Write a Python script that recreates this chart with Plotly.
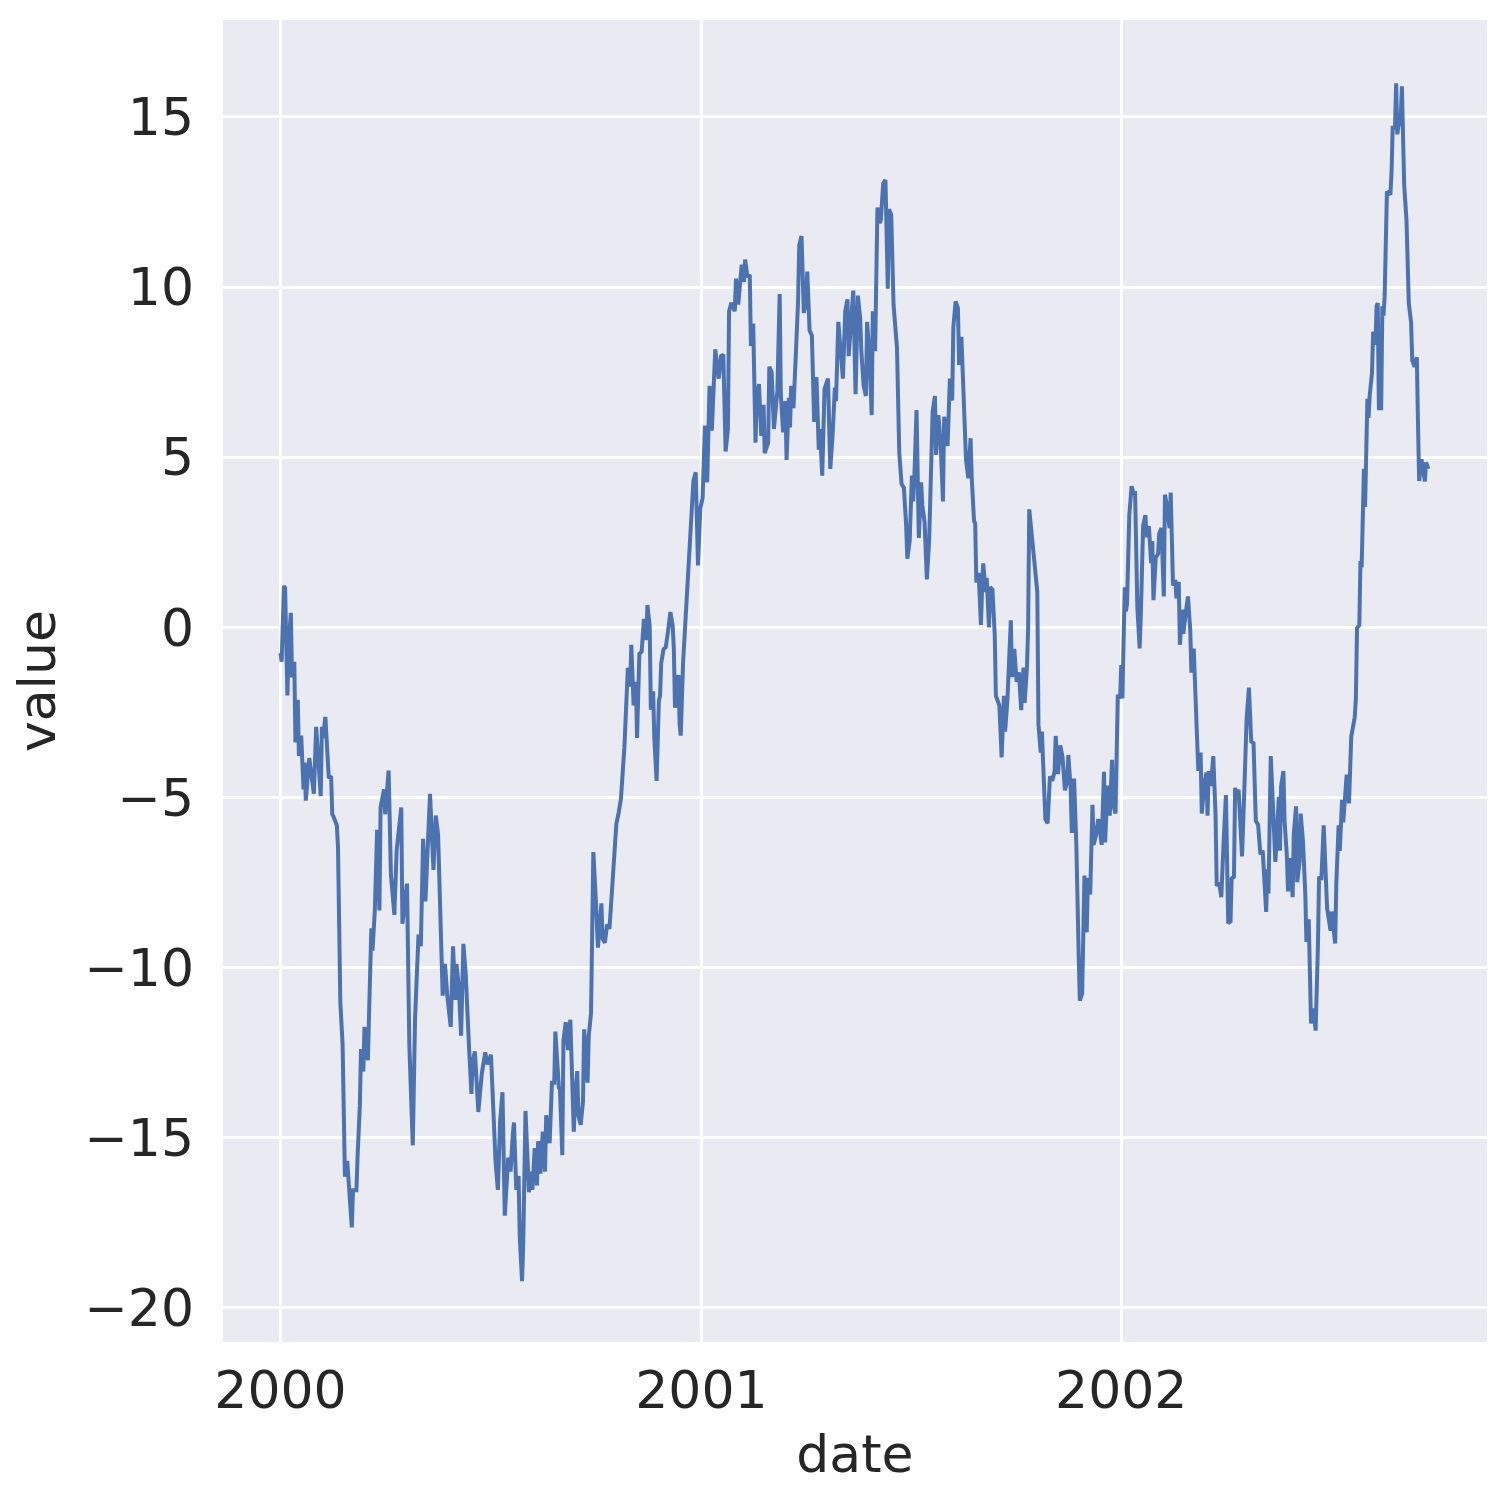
import pandas as pd
import plotly.graph_objects as go

# random walk: day offset from 2000-01-01 and value
start = pd.Timestamp("2000-01-01")

days_1 = [0, 1, 3, 4, 6, 7, 9, 10, 12, 13,
          15, 16, 18, 20, 21, 22, 25, 27, 29, 31,
          33, 35, 36, 37, 39, 40, 42, 44, 45, 46,
          49, 50, 51, 52, 54, 56, 58, 60, 62, 63,
          66, 67, 69, 70, 72, 73, 76, 77, 79, 80,
          82, 84, 86, 87, 90, 91, 94, 96, 99, 101,
          105, 106, 110, 112, 115, 117, 120, 122, 124, 126,
          128, 130, 133, 135, 137, 139, 141, 143, 145, 148,
          150, 152, 153, 155, 157, 159, 161, 164, 166, 167,
          169, 172, 175]
vals_1 = [-0.75, -1.01, 1.22, 1.16, -2.0, -0.55, 0.43, -1.47, -1.01, -3.38,
          -2.13, -3.78, -3.18, -4.76, -3.97, -5.09, -3.84, -4.37, -4.89, -2.92,
          -4.11, -4.96, -2.92, -3.25, -2.63, -3.38, -4.43, -4.37, -5.49, -5.55,
          -5.82, -6.47, -10.16, -11.01, -12.26, -16.14, -15.68, -16.74, -17.63, -16.54,
          -16.54, -15.55, -14.04, -12.39, -13.05, -11.74, -12.72, -11.34, -8.84, -9.5,
          -8.32, -5.95, -8.32, -5.29, -4.76, -5.49, -4.21, -7.26, -8.45, -6.54,
          -5.29, -8.71, -7.53, -12.26, -15.22, -11.47, -9.03, -9.37, -6.21, -8.05,
          -6.21, -4.89, -7.13, -5.53, -6.08, -8.97, -10.82, -9.89, -10.82, -11.74,
          -9.37, -10.95, -9.89, -10.55, -12.0, -9.3, -10.16, -12.39, -13.71, -12.79,
          -12.46, -14.24, -13.12]

days_2 = [178, 180, 183, 185, 187, 189, 191, 193, 195, 198,
          200, 202, 203, 205, 207, 208, 210, 211, 213, 216,
          218, 219, 221, 223, 224, 226, 228, 230, 231, 234,
          236, 238, 239, 242, 243, 245, 246, 248, 250, 252,
          255, 256, 258, 259, 261, 263, 264, 267, 268, 270,
          271, 272, 274, 276, 279, 280, 282, 284, 286, 288,
          290, 292, 294, 296, 299, 300, 302, 304, 305, 307,
          309, 310, 312, 314, 316, 318, 319, 321, 322, 324,
          325, 327, 329, 330, 331, 333, 335, 337, 339, 341,
          342, 343, 346, 347, 348, 350, 352, 354, 355]
vals_2 = [-12.49, -12.84, -12.56, -14.48, -15.71, -16.53, -14.48, -13.66, -17.29, -15.58,
          -15.99, -14.89, -14.55, -16.53, -16.12, -17.9, -19.21, -18.18, -14.21, -16.6,
          -15.99, -16.53, -15.3, -16.4, -15.1, -16.05, -14.82, -15.99, -14.34, -15.16,
          -13.38, -13.38, -11.88, -13.52, -13.59, -15.51, -12.15, -11.6, -12.42, -11.53,
          -14.82, -13.93, -13.04, -14.34, -14.62, -13.93, -11.81, -13.38, -12.01, -11.33,
          -9.27, -6.6, -7.9, -9.41, -8.11, -9.14, -9.27, -8.73, -8.86, -7.77,
          -6.53, -5.78, -5.44, -5.03, -3.52, -2.56, -1.19, -1.74, -0.51, -2.29,
          -1.6, -3.25, -0.78, -0.71, 0.25, -0.37, 0.66, 0.04, -2.42, -1.88,
          -3.25, -4.51, -2.15, -2.01, -1.05, -0.64, -0.58, -0.1, 0.45, 0.04,
          -0.64, -2.36, -1.4, -2.84, -3.18, -1.05, 0.18, 1.48, 1.68]

days_3 = [357, 359, 361, 363, 365, 367, 369, 371, 373, 375,
          378, 381, 383, 385, 387, 389, 390, 392, 395, 396,
          398, 401, 403, 404, 406, 408, 409, 411, 413, 414,
          416, 418, 420, 421, 424, 425, 427, 429, 432, 434,
          435, 437, 439, 440, 442, 443, 444, 446, 448, 450,
          451, 453, 455, 457, 458, 460, 462, 464, 466, 468,
          469, 471, 473, 476, 478, 480, 482, 483, 485, 487,
          489, 491, 493, 494, 496, 498, 500, 502, 504, 505,
          507, 509, 510, 512, 514, 515, 517, 519, 521, 522,
          524, 526, 528, 529, 531, 533, 536, 538, 540, 542,
          544, 545, 547, 549, 550, 551, 553, 555, 557, 558,
          560, 562, 564, 565, 567, 569, 570, 572, 574, 576,
          577, 580, 582]
vals_3 = [3.19, 4.31, 4.56, 1.82, 3.5, 3.8, 5.93, 4.26, 7.1, 5.78,
          8.17, 7.31, 7.97, 8.02, 5.17, 5.83, 9.29, 9.54, 9.29, 10.25,
          9.49, 10.66, 10.15, 10.81, 10.3, 10.36, 8.27, 8.93, 5.43, 6.65,
          7.15, 5.63, 6.54, 5.12, 5.43, 7.66, 7.51, 5.83, 6.95, 9.8,
          6.85, 5.73, 6.65, 4.92, 6.75, 5.88, 7.1, 6.44, 7.97, 9.59,
          11.22, 11.5, 9.24, 9.59, 10.46, 8.73, 8.58, 6.04, 7.36, 5.22,
          5.83, 4.46, 7.0, 7.31, 4.66, 5.63, 7.05, 6.65, 8.98, 8.07,
          7.31, 9.29, 9.64, 7.97, 8.98, 9.9, 6.85, 9.75, 9.09, 8.12,
          7.1, 6.8, 8.98, 8.07, 6.24, 9.29, 8.12, 12.34, 11.88, 11.98,
          13.05, 13.15, 9.95, 12.29, 12.13, 9.49, 8.22, 5.12, 4.21, 4.11,
          2.99, 2.02, 2.53, 4.46, 3.7, 4.31, 6.39, 2.63, 4.26, 3.6,
          3.09, 1.41, 2.58, 4.21, 6.34, 6.8, 5.07, 6.24, 5.38, 3.7,
          6.19, 5.33, 7.31]

days_4 = [584, 585, 587, 589, 590, 592, 593, 595, 596, 598,
          600, 601, 603, 604, 605, 607, 609, 610, 611, 613,
          614, 616, 617, 619, 621, 622, 625, 627, 629, 630,
          632, 635, 636, 638, 640, 642, 643, 644, 646, 647,
          649, 650, 651, 653, 654, 656, 658, 659, 661, 662,
          665, 667, 669, 671, 673, 674, 676, 678, 680, 682,
          684, 685, 687, 688, 690, 692, 694, 695, 697, 698,
          699, 701, 702, 704, 706, 707, 709, 711, 713, 714,
          716, 717, 719]
vals_4 = [6.67, 8.82, 9.58, 9.38, 7.71, 8.54, 7.64, 6.04, 4.93, 4.38,
          5.56, 4.38, 3.13, 3.06, 1.32, 1.6, 0.07, 1.18, 1.88, 1.04,
          1.46, 0.0, 1.18, 1.11, -0.21, -2.01, -2.29, -3.82, -2.01, -3.06,
          -2.15, 0.21, -1.46, -0.63, -1.6, -1.32, -1.88, -2.43, -1.18, -2.22,
          -1.18, -0.07, 3.47, 2.64, 2.43, 1.74, 1.04, -2.85, -3.68, -3.06,
          -5.63, -5.76, -4.38, -4.51, -4.24, -3.19, -4.31, -3.47, -3.82, -4.79,
          -4.51, -3.75, -4.72, -6.04, -4.44, -6.46, -9.65, -10.97, -10.76, -9.24,
          -7.29, -8.96, -7.36, -7.85, -5.21, -6.39, -6.11, -5.63, -6.32, -6.39,
          -4.24, -6.32, -4.65]

days_5 = [721, 723, 724, 726, 727, 728, 730, 731, 732, 734,
          735, 736, 738, 740, 742, 743, 745, 747, 748, 750,
          752, 753, 755, 757, 758, 759, 761, 763, 764, 766,
          768, 769, 771, 773, 774, 776, 778, 779, 781, 782,
          784, 785, 787, 789, 791, 792, 794, 795, 797, 798,
          800, 801, 803, 805, 806, 807, 809, 811, 813, 814,
          816, 818, 820, 822, 824, 826, 827, 829, 830, 831,
          833, 835, 836, 838, 840, 842, 843, 844, 846, 847,
          848, 850, 852, 854, 857, 858, 859, 861, 863, 865,
          866, 868, 869, 870, 872, 873, 875, 876, 878, 880,
          881, 883, 884, 886, 887, 889, 891, 892, 894, 896,
          898, 899, 900, 902]
vals_5 = [-5.53, -3.89, -5.2, -5.47, -4.0, -1.98, -2.09, -1.11, -2.09, 1.18,
          0.47, 0.69, 3.3, 4.15, 3.9, 4.01, 0.58, -0.62, 0.36, 2.98,
          3.3, 2.65, 2.98, 1.89, 2.54, 0.8, 2.05, 2.16, 2.76, 2.92,
          0.91, 3.9, 3.52, 2.92, 3.96, 1.23, 1.4, 0.85, 1.34, -0.51,
          0.52, -0.19, 0.41, 0.91, -0.08, -1.33, -0.62, -1.38, -2.8, -4.22,
          -3.68, -5.47, -4.66, -4.27, -5.53, -4.22, -4.66, -3.78, -5.53, -7.6,
          -7.49, -7.93, -6.29, -4.93, -8.69, -8.64, -7.38, -7.33, -4.71, -4.93,
          -4.77, -6.29, -6.73, -4.77, -2.69, -1.77, -2.58, -3.35, -3.4, -4.66,
          -5.69, -5.8, -6.67, -6.56, -8.36, -7.11, -7.82, -3.78, -5.75, -6.89,
          -6.29, -4.98, -6.56, -4.66, -4.22, -5.69, -6.73, -7.76, -6.78, -7.93,
          -6.07, -5.26, -7.49, -6.89, -5.47, -6.29, -7.82, -9.24, -8.58, -11.64,
          -11.2, -11.58, -11.85, -9.35]

days_6 = [903, 905, 906, 907, 910, 911, 913, 914, 916, 917,
          918, 920, 921, 923, 924, 926, 927, 929, 931, 934,
          935, 936, 938, 939, 940, 942, 943, 945, 946, 947,
          949, 950, 952, 953, 954, 955, 957, 958, 959, 960,
          961, 962, 965, 966, 967, 969, 970, 971, 973, 974,
          975, 976, 977, 979, 981, 983, 984, 986, 988, 989,
          990, 992, 994, 995, 996, 998]
vals_6 = [-7.32, -7.42, -6.76, -5.82, -8.26, -8.45, -8.91, -8.35, -9.2, -9.29,
          -7.51, -5.82, -6.57, -5.07, -5.73, -4.51, -4.33, -5.17, -3.2, -2.64,
          -2.08, -0.02, 0.07, 1.95, 1.76, 4.66, 3.54, 6.72, 6.16, 6.81,
          7.47, 8.69, 8.31, 9.44, 9.53, 6.44, 6.44, 9.44, 9.16, 9.72,
          12.15, 12.81, 12.72, 13.37, 14.68, 14.68, 15.99, 14.49, 14.96, 14.96,
          15.9, 14.87, 13.0, 11.97, 9.53, 8.97, 7.85, 7.66, 7.94, 5.99,
          4.3, 4.94, 4.48, 4.29, 4.85, 4.66]

y_ticks = [-20, -15, -10, -5, 0, 5, 10, 15]
x_ticks = ["2000-01-01", "2001-01-01", "2002-01-01"]
x_labels = ["2000", "2001", "2002"]

days = days_1 + days_2 + days_3 + days_4 + days_5 + days_6
vals = vals_1 + vals_2 + vals_3 + vals_4 + vals_5 + vals_6
dates = start + pd.to_timedelta(days, unit="D")

fig = go.Figure(go.Scatter(x=dates, y=vals, mode="lines",
                           line=dict(color="#4C72B0", width=4)))

text_color = "#262626"
fig.update_layout(
    width=1505, height=1505,
    margin=dict(l=223, r=18, t=20, b=163),
    paper_bgcolor="white", plot_bgcolor="#EAEAF2",
    font=dict(family="DejaVu Sans", size=52, color=text_color),
    showlegend=False,
)
fig.update_xaxes(
    range=["1999-11-12", "2002-11-15"],
    tickvals=x_ticks, ticktext=x_labels,
    showgrid=True, gridcolor="white", gridwidth=3,
    zeroline=False, showline=False, ticks="",
    ticklabelstandoff=13,
    title=dict(text="date", standoff=16, font=dict(size=52)),
)
fig.update_yaxes(
    range=[-21.0, 17.85],
    tickvals=y_ticks, ticktext=[str(v).replace("-", "\u2212") for v in y_ticks],
    showgrid=True, gridcolor="white", gridwidth=3,
    zeroline=False, showline=False, ticks="",
    ticklabelstandoff=28,
    title=dict(text="value", standoff=12, font=dict(size=52)),
)

fig.write_html("out.html", config={"displayModeBar": False},
               post_script="document.body.style.margin='0';")
